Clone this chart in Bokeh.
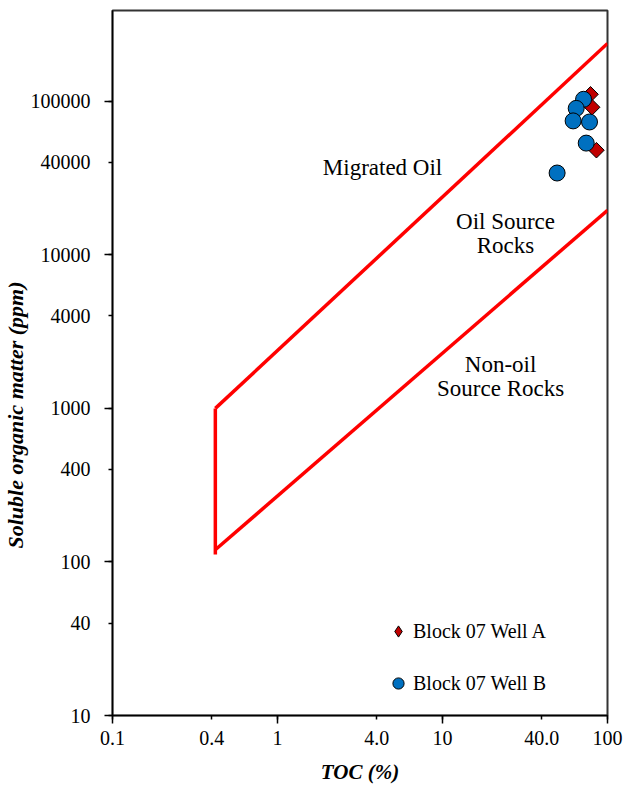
import numpy as np
from bokeh.plotting import figure
from bokeh.models import FixedTicker, Legend, LegendItem, Title
from bokeh.core.properties import value
from bokeh.embed import file_html
from bokeh.resources import INLINE

# ---- data ----
toc_well_a = [78.9, 80.7, 85.7]
som_well_a = [111000, 91400, 48000]
toc_well_b = [71.6, 64.6, 61.9, 77.8, 74.3, 49.5]
som_well_b = [103000, 89900, 74500, 73300, 53400, 34100]

x_ticks = [0.1, 0.4, 1, 4, 10, 40, 100]
x_tick_labels = ["0.1", "0.4", "1", "4.0", "10", "40.0", "100"]
y_ticks = [10, 40, 100, 400, 1000, 4000, 10000, 40000, 100000]
y_tick_labels = ["10", "40", "100", "400", "1000", "4000", "10000", "40000", "100000"]

# zone boundaries
upper_x = [0.42, 100]
upper_y = [1000, 238000]
lower_x = [0.42, 100]
lower_y = [120, 19500]
left_x = [0.42, 0.42]
left_y = [1000, 112]

zone_labels = ["Migrated Oil", "Oil Source\nRocks", "Non-oil\nSource Rocks"]
zone_x = [4.33, 24.1, 22.5]
zone_y = [37200, 13800, 1615]

FONT = "Liberation Serif"

p = figure(width=627, height=786, x_axis_type="log", y_axis_type="log",
           x_range=(0.1, 100), y_range=(10, 390000),
           output_backend="svg", toolbar_location=None,
           min_border_left=112, min_border_right=20, min_border_top=10, min_border_bottom=71)
p.grid.visible = False
p.outline_line_color = "#333333"
p.outline_line_width = 2

for ax, ticks, labels in ((p.xaxis[0], x_ticks, x_tick_labels), (p.yaxis[0], y_ticks, y_tick_labels)):
    decades = [t for t in ticks if abs(np.log10(t) - round(np.log10(t))) < 1e-9]
    ax.ticker = FixedTicker(ticks=ticks, minor_ticks=decades)
    ax.major_label_overrides = {t: l for t, l in zip(ticks, labels)}
    ax.major_tick_in = 0
    ax.major_tick_out = 4
    ax.minor_tick_in = 0
    ax.minor_tick_out = 8
    ax.axis_line_color = "black"
    ax.axis_line_width = 1.5
    ax.major_tick_line_color = "black"
    ax.major_tick_line_width = 1.5
    ax.minor_tick_line_color = "black"
    ax.minor_tick_line_width = 1.5
    ax.major_label_text_font = FONT
    ax.major_label_text_font_size = "20px"
    ax.major_label_text_color = "black"

p.xaxis.major_label_standoff = 7
p.yaxis.major_label_standoff = 14

p.xaxis.axis_label = "TOC (%)"
p.xaxis.axis_label_text_font = FONT
p.xaxis.axis_label_text_font_style = "bold italic"
p.xaxis.axis_label_text_font_size = "21px"
p.xaxis.axis_label_text_color = "black"
p.xaxis.axis_label_standoff = 12

ylab = Title(text="Soluble organic matter (ppm)", align="left", offset=167,
             text_font=FONT, text_font_style="bold italic", text_font_size="22px",
             text_color="black", standoff=0)
p.add_layout(ylab, "left")

# zone boundaries
for xs, ys in ((upper_x, upper_y), (lower_x, lower_y), (left_x, left_y)):
    p.line(xs, ys, line_color="#FF0000", line_width=3.5)

# zone labels
p.text(x=zone_x, y=zone_y, text=zone_labels, text_font=value(FONT), text_font_size="23px",
       text_align="center", text_baseline="middle", text_color="black", text_line_height=0.95)

# diamond key glyph (used by the legend, which ignores marker angle); hidden under the plot markers
ra_key = p.scatter(toc_well_a, som_well_a, marker="diamond", size=11,
                   fill_color="#C00000", line_color="black", line_width=1)
ra = p.scatter(toc_well_a, som_well_a, marker="square", angle=np.pi / 4, size=11,
               fill_color="#C00000", line_color="black", line_width=1)
rb = p.scatter(toc_well_b, som_well_b, marker="circle", size=16,
               fill_color="#0070C0", line_color="black", line_width=1)

legend = Legend(items=[LegendItem(label="Block 07 Well A", renderers=[ra_key]),
                       LegendItem(label="Block 07 Well B", renderers=[rb])],
                location=(272, 18), glyph_width=28, glyph_height=28, label_height=28,
                spacing=24, padding=0, margin=0, label_standoff=1,
                border_line_color=None, background_fill_alpha=0,
                label_text_font=FONT, label_text_font_size="20px", label_text_color="black")
p.add_layout(legend)

open("out.html", "w").write(file_html(p, INLINE))
